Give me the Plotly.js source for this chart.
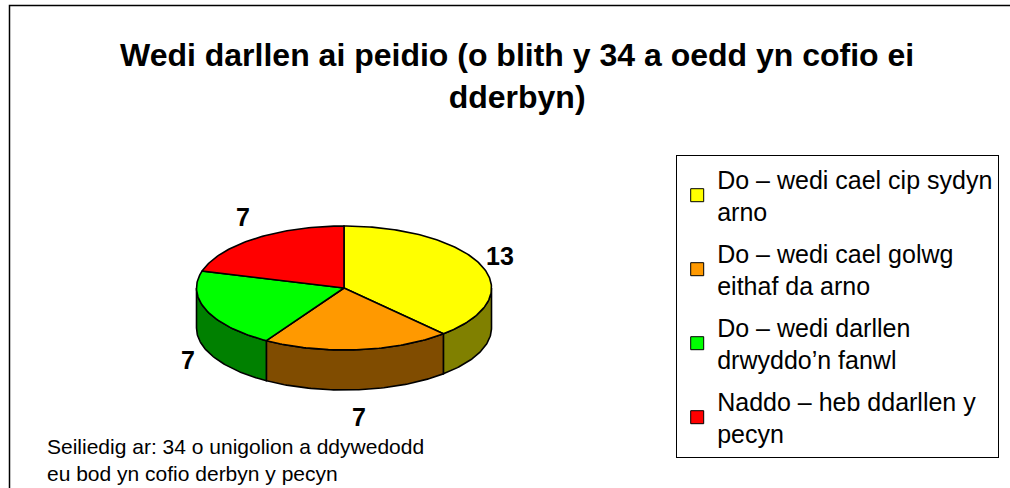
<!DOCTYPE html>
<html>
<head>
<meta charset="utf-8">
<script src="https://cdn.plot.ly/plotly-3.0.1.min.js"></script>
<style>html,body{margin:0;padding:0;background:#fff;}#chart{width:1010px;height:488px;}</style>
</head>
<body>
<div id="chart"></div>
<script>
// ---- Data ----
const categories = [
  "Do – wedi cael cip sydyn arno",
  "Do – wedi cael golwg eithaf da arno",
  "Do – wedi darllen drwyddo’n fanwl",
  "Naddo – heb ddarllen y pecyn"
];
const legendLabels = [
  "Do – wedi cael cip sydyn<br>arno",
  "Do – wedi cael golwg<br>eithaf da arno",
  "Do – wedi darllen<br>drwyddo’n fanwl",
  "Naddo – heb ddarllen y<br>pecyn"
];
const counts = [13, 7, 7, 7];
const topColors = ["#FFFF00", "#FF9900", "#00FF00", "#FF0000"];
const sideColors = ["#808000", "#804C00", "#008000", "#800000"];
const titleText = "Wedi darllen ai peidio (o blith y 34 a oedd yn cofio ei<br>dderbyn)";
const footnote = "Seiliedig ar: 34 o unigolion a ddywedodd<br>eu bod yn cofio derbyn y pecyn";

// ---- Geometry (pixel space of the plot) ----
const W = 1010, H = 488;
const CX = 344, CY = 288, RX = 147.5, RY = 62, DEPTH = 40;
const FONT = "Arial, 'Liberation Sans', sans-serif";

function pt(deg, dy) {
  const r = deg * Math.PI / 180;
  return [CX + RX * Math.sin(r), CY - RY * Math.cos(r) + dy];
}
function arc(a0, a1, dy) {
  const xs = [], ys = [];
  const n = Math.max(2, Math.ceil(Math.abs(a1 - a0)));
  for (let i = 0; i <= n; i++) {
    const p = pt(a0 + (a1 - a0) * i / n, dy);
    xs.push(p[0]); ys.push(p[1]);
  }
  return [xs, ys];
}

const total = counts.reduce((a, b) => a + b, 0);
const starts = [], ends = [];
let acc = 0;
counts.forEach(v => { starts.push(acc / total * 360); acc += v; ends.push(acc / total * 360); });

const traces = [];
// side walls (front half only: 90..270 deg clockwise from top)
counts.forEach((v, i) => {
  const lo = Math.max(starts[i], 90), hi = Math.min(ends[i], 270);
  if (lo < hi) {
    const [tx, ty] = arc(lo, hi, 0);
    const [bx, by] = arc(hi, lo, DEPTH);
    traces.push({
      type: "scatter", mode: "lines", x: tx.concat(bx, [tx[0]]), y: ty.concat(by, [ty[0]]),
      fill: "toself", fillcolor: sideColors[i], line: {color: "#000", width: 1.6},
      showlegend: false, hoverinfo: "skip"
    });
  }
});
// top faces
counts.forEach((v, i) => {
  const [ax, ay] = arc(starts[i], ends[i], 0);
  traces.push({
    type: "scatter", mode: "lines", x: [CX].concat(ax, [CX]), y: [CY].concat(ay, [CY]),
    fill: "toself", fillcolor: topColors[i], line: {color: "#000", width: 1.6},
    name: categories[i], showlegend: false, hoverinfo: "text", text: categories[i] + ": " + v
  });
});
// legend entries
counts.forEach((v, i) => {
  traces.push({
    type: "scatter", mode: "markers", x: [null], y: [null], name: legendLabels[i],
    legendgroup: "g" + i,
    marker: {symbol: "square", size: 13, color: topColors[i], line: {color: "#000", width: 1}}
  });
});

// value labels
const annotations = counts.map((v, i) => {
  const mid = (starts[i] + ends[i]) / 2;
  const r = mid * Math.PI / 180;
  const s = Math.sin(r), c = Math.cos(r);
  const p = pt(mid, c < 0 ? DEPTH : 0);
  return {
    x: p[0] + 20 * s, y: p[1] - 27 * c,
    xref: "x", yref: "y", text: "<b>" + v + "</b>", showarrow: false,
    font: {family: FONT, size: 25, color: "#000"}, xanchor: "center", yanchor: "middle"
  };
});
annotations.push({
  x: 45, y: 460, xref: "x", yref: "y", text: footnote, showarrow: false, align: "left",
  xanchor: "left", yanchor: "middle", font: {family: FONT, size: 21, color: "#000"}
});

const layout = {
  width: W, height: H,
  margin: {l: 0, r: 0, t: 0, b: 0},
  paper_bgcolor: "#fff", plot_bgcolor: "rgba(0,0,0,0)",
  title: {
    text: titleText, x: 0.512, xanchor: "center", y: 1 - 66 / H, yanchor: "middle", yref: "container",
    font: {family: FONT, size: 32, color: "#000", weight: "bold"}
  },
  xaxis: {range: [0, W], visible: false, fixedrange: true},
  yaxis: {range: [H, 0], visible: false, fixedrange: true},
  showlegend: true,
  legend: {
    x: 676 / W, xanchor: "left", y: 1 - 155 / H, yanchor: "top",
    bordercolor: "#000", borderwidth: 1.2, bgcolor: "#fff",
    font: {family: FONT, size: 25, color: "#000"},
    traceorder: "grouped", tracegroupgap: 6
  },
  annotations: annotations,
  shapes: [{
    type: "rect", xref: "x", yref: "y", x0: 9.5, y0: 5.5, x1: W + 5, y1: H + 5,
    line: {color: "#000", width: 1.5}, layer: "below"
  }]
};

Plotly.newPlot("chart", traces, layout, {displayModeBar: false, staticPlot: true});
</script>
</body>
</html>
